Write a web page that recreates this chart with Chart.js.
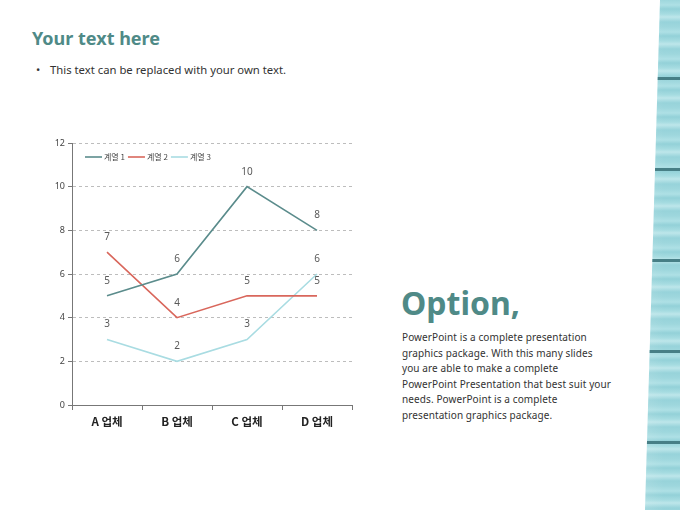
<!DOCTYPE html>
<html><head><meta charset="utf-8">
<script src="https://cdn.jsdelivr.net/npm/chart.js@4"></script>
<style>
html,body{margin:0;padding:0;background:#fff;width:680px;height:510px;overflow:hidden;font-family:"Noto Sans","Open Sans",sans-serif;}
#title{position:absolute;left:32px;top:26px;font-size:18px;font-weight:bold;color:#4f8a87;}
#bullet{position:absolute;left:36px;top:62px;font-size:11.3px;color:#333;}
#bullet span{display:inline-block;width:14px;}
#opt{position:absolute;left:401px;top:281px;font-size:32px;font-weight:bold;color:#4f8a87;}
#para{position:absolute;left:402px;top:330px;font-size:10px;line-height:15.6px;color:#333;white-space:nowrap;letter-spacing:0.1px;}
#strip{position:absolute;left:640px;top:0;width:40px;height:510px;
clip-path:polygon(20px 0,40px 0,40px 510px,5px 510px);
background:
linear-gradient(to bottom,transparent 77px,#477f86 77px,#477f86 80px,transparent 80px,transparent 168px,#477f86 168px,#477f86 171px,transparent 171px,transparent 259px,#477f86 259px,#477f86 262px,transparent 262px,transparent 350px,#477f86 350px,#477f86 353px,transparent 353px,transparent 441px,#477f86 441px,#477f86 444px,transparent 444px),
linear-gradient(to right,rgba(255,255,255,0.15),rgba(255,255,255,0) 60%),
repeating-linear-gradient(to bottom,#9ed7dd 0px,#aee0e5 5px,#93d1d8 9px,#a6dce1 14px,#bde6ea 17px,#97d3da 22px,#9ed7dd 27px);}
#wrap{position:absolute;left:40px;top:130px;width:330px;height:310px;}
</style></head><body>
<div id="title">Your text here</div>
<div id="bullet"><span>•</span>This text can be replaced with your own text.</div>
<div id="opt">Option,</div>
<div id="para">PowerPoint is a complete presentation<br>graphics package. With this many slides<br>you are able to make a complete<br>PowerPoint Presentation that best suit your<br>needs. PowerPoint is a complete<br>presentation graphics package.</div>
<div id="strip"></div>
<div id="wrap"><canvas id="c"></canvas></div>
<script>
const categories = ["A 업체","B 업체","C 업체","D 업체"];
const seriesNames = ["계열 1","계열 2","계열 3"];
const series1 = [5,6,10,8];
const series2 = [7,4,5,5];
const series3 = [3,2,3,6];
const yTicks = [0,2,4,6,8,10,12];
const colors = ["#5b8c8c","#d9675c","#a9dce2"];

const labelPlugin = {
  id:'pointLabels',
  afterDatasetsDraw(chart){
    const ctx = chart.ctx;
    ctx.save();
    ctx.font = '10px "Noto Sans", sans-serif';
    ctx.fillStyle = '#595959';
    ctx.textAlign = 'center';
    ctx.textBaseline = 'middle';
    chart.data.datasets.forEach((ds,i)=>{
      const meta = chart.getDatasetMeta(i);
      meta.data.forEach((pt,j)=>{
        ctx.fillText(String(ds.data[j]), pt.x, pt.y-15);
      });
    });
    // legend
    const area = chart.chartArea;
    let x = area.left + 13;
    const y = area.top + 14;
    ctx.font = '8px "Noto Sans CJK KR", sans-serif';
    ctx.textAlign = 'left';
    ctx.fillStyle = '#444';
    chart.data.datasets.forEach((ds)=>{
      ctx.strokeStyle = ds.borderColor;
      ctx.lineWidth = 1.6;
      ctx.beginPath(); ctx.moveTo(x,y); ctx.lineTo(x+17,y); ctx.stroke();
      x += 19;
      ctx.fillText(ds.label, x, y);
      x += ctx.measureText(ds.label).width + 3;
    });
    ctx.restore();
  }
};

const allSeries = [series1,series2,series3];
new Chart(document.getElementById('c'),{
  type:'line',
  data:{
    labels:categories,
    datasets: allSeries.map((d,i)=>({label:seriesNames[i],data:d,borderColor:colors[i],backgroundColor:colors[i],borderWidth:1.6,pointRadius:0,tension:0}))
  },
  options:{
    responsive:true,maintainAspectRatio:false,animation:false,
    layout:{padding:{top:13,right:18,left:0,bottom:0}},
    plugins:{
      tooltip:{enabled:false},
      legend:{display:false}
    },
    scales:{
      x:{offset:true,
        grid:{offset:true,drawOnChartArea:false,drawTicks:true,tickLength:5,color:'#777'},
        border:{color:'#777',width:1},
        ticks:{color:'#222',padding:5,font:{size:11.5,weight:'bold',family:'"Noto Sans CJK KR", sans-serif'}},
        afterFit(s){s.height=35;}
      },
      y:{min:0,max:12,
        afterBuildTicks(s){s.ticks = yTicks.map(v=>({value:v}));},
        grid:{color:'#bdbdbd',tickLength:4,tickColor:'#777'},
        border:{color:'#777',width:1,dash:[3,3]},
        ticks:{color:'#444',padding:3,font:{size:9,family:'"Noto Sans", sans-serif'}},
        afterFit(s){s.width=32;}
      }
    }
  },
  plugins:[labelPlugin]
});
</script>
</body></html>
